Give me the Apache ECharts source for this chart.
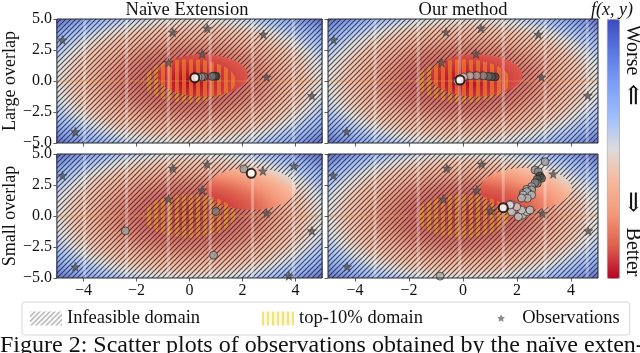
<!DOCTYPE html>
<html>
<head>
<meta charset="utf-8">
<script src="https://cdn.jsdelivr.net/npm/echarts@6/dist/echarts.min.js"></script>
<style>
  html, body { margin: 0; padding: 0; background: #fff; }
  #chart { width: 640px; height: 353px; }
</style>
</head>
<body>
<div id="chart"></div>
<script>
// axis ticks shared by the four panels
const xTicks = [-4, -2, 0, 2, 4];

// f(x, y): best at fieldCenter, worst in the corners
const fieldCenter = [0, 0];
const fieldRadius = 7.07;
// coolwarm reversed, best (red) -> worst (blue)
const cmap = ['#b40426', '#de604d', '#f4987a', '#f7b89c', '#dddcdc', '#9ebeff', '#7b9ff9', '#5977e3', '#3b4cc0'];
const cmapPos = [0, 0.354, 0.5, 0.612, 0.707, 0.79, 0.866, 0.935, 1];

// regions [cx, cy, r], one per row (large overlap, small overlap)
const top10 = [[0, 0, 1.75], [0, 0, 1.75]];
const feasible = [[0.5, 0.45, 1.7], [2.33, 2.2, 1.7]];

// initial observations
const obsLarge = [[-4.79, 3.31], [-0.63, 3.93], [0.67, 4.25], [2.79, 3.76], [0.48, 2.18],
  [-0.79, 1.48], [2.91, 0.3], [4.62, -1.18], [-4.31, -4.09]];
const obsSmallNaive = [[-4.79, 3.25], [-0.63, 3.85], [0.67, 4.19], [2.77, 3.63], [3.94, 4.03],
  [0.48, 2.1], [-0.79, 1.37], [2.91, 0.22], [4.62, -1.2], [-4.31, -4.1], [3.75, -4.83]];
const obsSmallOurs = [[-4.8, 3.25], [-0.6, 3.85], [0.69, 4.19], [3.34, 3.39], [0.51, 2.1],
  [-0.73, 1.37], [1.03, 0.43], [2.94, 0.22], [4.64, -1.2], [-4.29, -4.1]];

// queried points [x, y, shade]  (shade 1 = dark/early, 0 = white/late)
const trajNaiveLarge = [[1.0, 0.38, 0.95], [0.93, 0.4, 0.8], [0.86, 0.37, 0.65], [0.54, 0.35, 0.7],
  [0.45, 0.32, 0.5], [0.32, 0.3, 0.35]];
const trajOursLarge = [[1.19, 0.33, 0.9], [1.06, 0.35, 0.8], [0.94, 0.37, 0.7], [0.75, 0.42, 0.55],
  [0.51, 0.43, 0.45], [0.26, 0.42, 0.35], [0.02, 0.3, 0.2], [-0.2, 0.0, 0.05]];
const trajNaiveSmall = [[2.05, 3.8, 0.45], [-2.42, -1.2, 0.45], [0.91, -3.16, 0.45], [1.0, 0.36, 0.6]];
const trajOursSmall = [[-0.85, -4.85, 0.35], [3.04, 4.38, 0.45], [2.67, 3.71, 0.5], [2.79, 3.57, 0.55],
  [2.85, 3.23, 0.9], [2.91, 3.04, 0.85], [2.75, 2.96, 0.75], [2.75, 2.64, 0.6], [2.67, 2.69, 0.6],
  [2.54, 2.37, 0.45], [2.36, 2.15, 0.4], [2.54, 2.1, 0.4], [2.23, 1.83, 0.35], [2.42, 1.83, 0.35],
  [2.36, 1.96, 0.35], [2.23, 1.69, 0.3], [2.54, 1.69, 0.3], [2.38, 1.43, 0.3], [2.17, 1.45, 0.3],
  [2.21, 0.08, 0.25], [2.05, -0.06, 0.25], [2.36, 0.35, 0.25], [2.48, 0.48, 0.25], [2.17, 0.48, 0.2],
  [1.8, 0.35, 0.2], [1.99, 0.75, 0.2], [1.77, 0.94, 0.15], [1.74, 0.89, 0.15]];
// last query of each run
const lastNaiveLarge = [[0.2, 0.27]];
const lastOursLarge = [[-0.11, 0.08]];
const lastNaiveSmall = [[2.33, 3.44]];
const lastOursSmall = [[1.49, 0.67]];

// light vertical bands of the original raster
const bandsNaive = [-3.96, -2.37, -0.8, 0.78, 2.38, 3.92];
const bandsOurs = [-3.26, -1.66, -0.12, 1.49, 3.04, 4.6];
const zeroLine = [[-5, 0], [5, 0]];

const serif = '"Liberation Serif", "DejaVu Serif", serif';
const starPath = 'path://M0,-10L2.35,-3.24L9.51,-3.09L3.8,1.24L5.88,8.09L0,4L-5.88,8.09L-3.8,1.24L-9.51,-3.09L-2.35,-3.24Z';
const starLegend = 'path://M-46,-20M46,20M0,-10L2.35,-3.24L9.51,-3.09L3.8,1.24L5.88,8.09L0,4L-5.88,8.09L-3.8,1.24L-9.51,-3.09L-2.35,-3.24Z';

function hatchCanvas(size, color, lw, bg) {
  const c = document.createElement('canvas');
  c.width = c.height = size;
  const g = c.getContext('2d');
  if (bg) { g.fillStyle = bg; g.fillRect(0, 0, size, size); }
  g.strokeStyle = color;
  g.lineWidth = lw;
  g.beginPath();
  g.moveTo(0, size); g.lineTo(size, 0);
  g.moveTo(-1, 1); g.lineTo(1, -1);
  g.moveTo(size - 1, size + 1); g.lineTo(size + 1, size - 1);
  g.stroke();
  return c;
}
function stripeCanvas(w, on, color, bg) {
  const c = document.createElement('canvas');
  c.width = w; c.height = 2;
  const g = c.getContext('2d');
  if (bg) { g.fillStyle = bg; g.fillRect(0, 0, w, 2); }
  g.fillStyle = color;
  g.fillRect(0, 0, on, 2);
  return c;
}
const hatchFill = { image: hatchCanvas(5, 'rgba(40,40,40,0.8)', 1.15), repeat: 'repeat' };
const stripeOut = { image: stripeCanvas(7, 4, 'rgba(236,148,45,0.82)'), repeat: 'repeat' };
const stripeIn = { image: stripeCanvas(7, 4, 'rgba(242,140,45,0.6)'), repeat: 'repeat' };
const hatchLegend = { image: hatchCanvas(5, '#9a9a9a', 1.1, '#fff'), repeat: 'repeat' };
const yellowLegend = { image: stripeCanvas(5, 2, '#efe27a', '#fdf9df'), repeat: 'repeat' };

const R = fieldRadius * 1.1;
const stops = cmap.map((c, i) => ({ offset: cmapPos[i] / 1.1, color: c }));
stops.push({ offset: 1, color: cmap[cmap.length - 1] });

function ring(c, n) {
  const pts = [];
  for (let i = 0; i < n; i++) {
    const t = 2 * Math.PI * i / n;
    pts.push([c[0] + c[2] * Math.cos(t), c[1] + c[2] * Math.sin(t)]);
  }
  return pts;
}
function inside(p, c) { return Math.hypot(p[0] - c[0], p[1] - c[1]) <= c[2]; }
function lens(a, b) {
  const pts = ring(a, 240).filter(p => inside(p, b)).concat(ring(b, 240).filter(p => inside(p, a)));
  const mx = pts.reduce((s, p) => s + p[0], 0) / pts.length;
  const my = pts.reduce((s, p) => s + p[1], 0) / pts.length;
  pts.sort((u, v) => Math.atan2(u[1] - my, u[0] - mx) - Math.atan2(v[1] - my, v[0] - mx));
  return pts;
}
function shade(v) {
  const g = Math.round(245 - v * 200);
  return 'rgb(' + g + ',' + g + ',' + g + ')';
}
function fmtY(v) { return (v < 0 ? '\u2212' : '') + Math.abs(v).toFixed(1); }
function fmtX(v) { return (v < 0 ? '\u2212' : '') + Math.abs(v); }

const gridPos = [[52, 19], [328, 19], [52, 154], [328, 154]];
const panels = [
  { obs: obsLarge, traj: trajNaiveLarge, last: lastNaiveLarge, bands: bandsNaive },
  { obs: obsLarge, traj: trajOursLarge, last: lastOursLarge, bands: bandsOurs },
  { obs: obsSmallNaive, traj: trajNaiveSmall, last: lastNaiveSmall, bands: bandsNaive },
  { obs: obsSmallOurs, traj: trajOursSmall, last: lastOursSmall, bands: bandsOurs }
];

const series = [];
panels.forEach((p, i) => {
  const row = i >> 1;
  const ax = { xAxisIndex: i, yAxisIndex: i };
  // faded objective field
  series.push(Object.assign({
    type: 'custom', clip: true, silent: true, data: [fieldCenter],
    renderItem: (params, api) => {
      const c = api.coord([api.value(0), api.value(1)]);
      const s = api.size([1, 1]);
      return {
        type: 'circle', x: c[0], y: c[1], scaleY: s[1] / s[0],
        shape: { cx: 0, cy: 0, r: R * s[0] },
        style: { fill: { type: 'radial', x: 0.5, y: 0.5, r: 0.5, colorStops: stops }, opacity: 0.8 }
      };
    }
  }, ax));
  // top-10% stripes (under the hatch)
  series.push(Object.assign({
    type: 'custom', name: 'top-10% domain', clip: true, silent: true, data: [top10[row]],
    renderItem: (params, api) => ({
      type: 'polygon',
      shape: { points: ring([api.value(0), api.value(1), api.value(2)], 180).map(q => api.coord(q)) },
      style: { fill: stripeOut }
    })
  }, ax));
  // infeasible hatch
  series.push(Object.assign({
    type: 'custom', name: 'Infeasible domain', clip: true, silent: true, data: [[-5, -5, 5, 5]],
    renderItem: (params, api) => {
      const a = api.coord([api.value(0), api.value(3)]);
      const b = api.coord([api.value(2), api.value(1)]);
      return { type: 'rect', shape: { x: a[0], y: a[1], width: b[0] - a[0], height: b[1] - a[1] }, style: { fill: hatchFill } };
    }
  }, ax));
  // feasible domain, full colours
  series.push(Object.assign({
    type: 'custom', clip: true, silent: true, data: [feasible[row]],
    renderItem: (params, api) => {
      const o = api.coord(fieldCenter);
      const s = api.size([1, 1]);
      return {
        type: 'circle', x: o[0], y: o[1], scaleY: s[1] / s[0],
        shape: {
          cx: (api.value(0) - fieldCenter[0]) * s[0],
          cy: -(api.value(1) - fieldCenter[1]) * s[0],
          r: api.value(2) * s[0]
        },
        style: { fill: { type: 'radial', x: 0, y: 0, r: R * s[0], global: true, colorStops: stops } }
      };
    }
  }, ax));
  // top-10% stripes inside the feasible domain
  series.push(Object.assign({
    type: 'custom', clip: true, silent: true, data: [top10[row].concat(feasible[row])],
    renderItem: (params, api) => {
      const a = [api.value(0), api.value(1), api.value(2)];
      const b = [api.value(3), api.value(4), api.value(5)];
      return { type: 'polygon', shape: { points: lens(a, b).map(q => api.coord(q)) }, style: { fill: stripeIn } };
    }
  }, ax));
  // light raster bands
  series.push(Object.assign({
    type: 'custom', clip: true, silent: true, data: p.bands.map(x => [x]),
    renderItem: (params, api) => {
      const a = api.coord([api.value(0), 5]);
      const b = api.coord([api.value(0), -5]);
      return { type: 'rect', shape: { x: a[0] - 1.5, y: a[1], width: 3, height: b[1] - a[1] }, style: { fill: 'rgba(255,255,255,0.3)' } };
    }
  }, ax));
  series.push(Object.assign({
    type: 'line', data: zeroLine, symbol: 'none', silent: true,
    lineStyle: { color: 'rgba(236,150,70,0.5)', width: 1 }
  }, ax));
  series.push(Object.assign({
    type: 'scatter', name: 'Observations', data: p.obs, symbol: starPath, symbolSize: 9, z: 5,
    itemStyle: { color: '#555', borderColor: '#2e2e2e', borderWidth: 0.5 }
  }, ax));
  series.push(Object.assign({
    type: 'scatter', data: p.traj, symbol: 'circle', symbolSize: 8, z: 6,
    itemStyle: { color: q => shade(q.value[2]), borderColor: '#1a1a1a', borderWidth: 0.8 }
  }, ax));
  series.push(Object.assign({
    type: 'scatter', data: p.last, symbol: 'circle', symbolSize: 9, z: 7,
    itemStyle: { color: '#fff', borderColor: '#000', borderWidth: 2 }
  }, ax));
});

const txt = (x, y, text, size, extra) => Object.assign({
  type: 'text', x: x, y: y,
  style: { text: text, font: size + 'px ' + serif, fill: '#111', align: 'center', verticalAlign: 'middle' }
}, extra || {});

const chart = echarts.init(document.getElementById('chart'));
chart.setOption({
  animation: false,
  backgroundColor: '#fff',
  grid: gridPos.map(g => ({
    left: g[0], top: g[1], width: 270, height: 124, show: true, z: 10,
    backgroundColor: 'transparent', borderColor: '#2b2b2b', borderWidth: 1
  })),
  xAxis: gridPos.map((g, i) => ({
    gridIndex: i, type: 'value', min: -5, max: 5,
    axisLine: { show: false, onZero: false }, splitLine: { show: false },
    axisTick: { show: true, length: 3.5, customValues: xTicks, lineStyle: { color: '#333', width: 0.8 } },
    axisLabel: { show: i >= 2, customValues: xTicks, margin: 5, fontFamily: serif, fontSize: 16, color: '#111', formatter: fmtX }
  })),
  yAxis: gridPos.map((g, i) => ({
    gridIndex: i, type: 'value', min: -5, max: 5, interval: 2.5,
    name: i === 0 ? 'Large overlap' : (i === 2 ? 'Small overlap' : ''),
    nameLocation: 'middle', nameGap: 32,
    nameTextStyle: { fontFamily: serif, fontSize: 18, color: '#111' },
    axisLine: { show: false, onZero: false }, splitLine: { show: false },
    axisTick: { show: true, length: 3.5, lineStyle: { color: '#333', width: 0.8 } },
    axisLabel: { show: i % 2 === 0, margin: 5, fontFamily: serif, fontSize: 16, color: '#111', formatter: fmtY }
  })),
  visualMap: {
    type: 'continuous', min: 0, max: 1, seriesIndex: [], calculable: false,
    left: 607, top: 19, itemWidth: 12, itemHeight: 259, padding: 0,
    borderColor: '#888', borderWidth: 0.8,
    inRange: { color: cmap }
  },
  legend: {
    left: 22, top: 302, padding: [7, 10, 7, 8], itemGap: 62, itemWidth: 32, itemHeight: 14,
    borderColor: '#d6d6d6', borderWidth: 1, borderRadius: 3, selectedMode: false,
    textStyle: { fontFamily: serif, fontSize: 18.5, color: '#111' },
    data: [
      { name: 'Infeasible domain', icon: 'rect', itemStyle: { color: hatchLegend } },
      { name: 'top-10% domain', icon: 'rect', itemStyle: { color: yellowLegend } },
      { name: 'Observations', icon: starLegend, itemStyle: { color: '#777', borderColor: '#444', borderWidth: 0.5 } }
    ]
  },
  graphic: [
    txt(187, 10, 'Na\u00efve Extension', 18.5),
    txt(463, 10, 'Our method', 18.5),
    { type: 'text', x: 612, y: 10, style: { text: 'f(x, y)', font: 'italic 18px ' + serif, fill: '#111', align: 'center', verticalAlign: 'middle' } },
    txt(632, 50, 'Worse', 20, { rotation: -Math.PI / 2 }),
    txt(632, 95, '\u21d0', 26, { rotation: -Math.PI / 2 }),
    txt(632, 202, '\u21d2', 26, { rotation: -Math.PI / 2 }),
    txt(632, 252, 'Better', 20, { rotation: -Math.PI / 2 }),
    { type: 'text', x: 0, y: 346, style: { text: 'Figure 2: Scatter plots of observations obtained by the na\u00efve exten-', font: '24px ' + serif, fill: '#111', align: 'left', verticalAlign: 'middle' } }
  ],
  series: series
});
</script>
</body>
</html>
